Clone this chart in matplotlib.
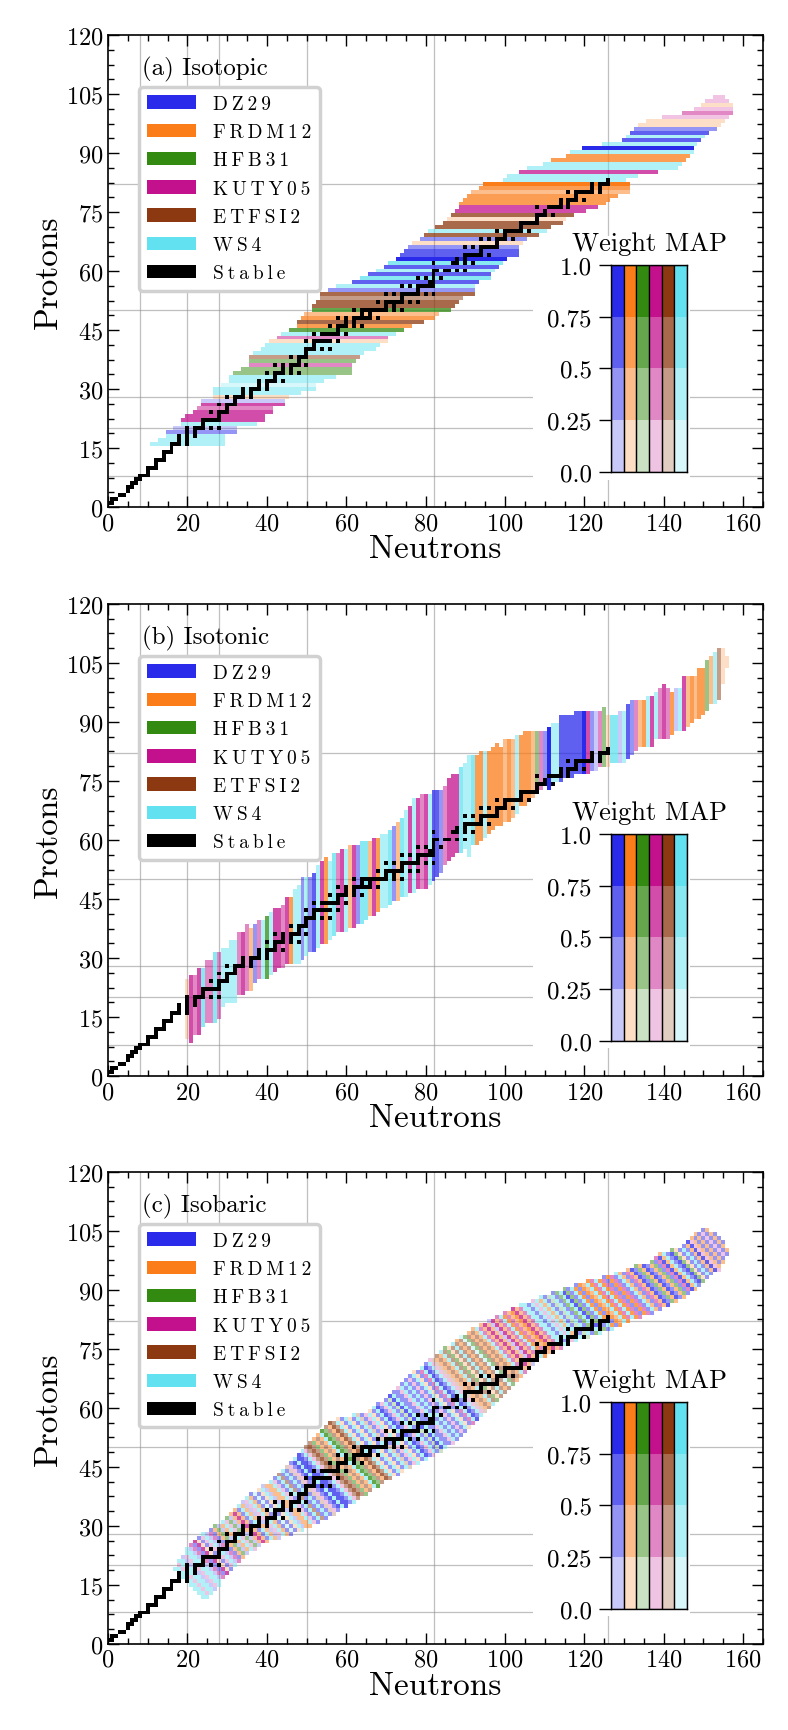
"""
Isotopic / isotonic / isobaric best-model maps on the nuclear chart
"""
import numpy as np
import matplotlib
matplotlib.use('Agg')
import matplotlib.pyplot as plt
from matplotlib.patches import Rectangle, Patch
from matplotlib.colors import to_rgb
from matplotlib.ticker import MultipleLocator, AutoMinorLocator

plt.rcParams['font.family'] = ['cmr10', 'DejaVu Serif']
plt.rcParams['mathtext.fontset'] = 'cm'
plt.rcParams['axes.formatter.use_mathtext'] = True
plt.rcParams['axes.unicode_minus'] = False

MODELS = ['DZ29', 'FRDM12', 'HFB31', 'KUTY05', 'ETFSI2', 'WS4']
COLORS = ['#2a2aeb', '#fa7d19', '#328a10', '#c3108c', '#8c3810', '#62e2f0']
PANEL_TITLES = ['(a) Isotopic', '(b) Isotonic', '(c) Isobaric']
MAGIC_N = [8, 20, 28, 50, 82, 126]
MAGIC_Z = [8, 20, 28, 50, 82]

# ---- (a) isotopic chains: one row per Z ----
ISO_Z = list(range(16, 105))
ISO_NMIN = [11, 13, 15, 15, 17, 19, 19, 20, 22, 23, 24, 24, 27, 27, 27, 29, 31, 31, 32, 34,
            36, 36, 36, 37, 39, 40, 41, 43, 44, 46, 48, 48, 49, 50, 52, 52, 53, 54, 54, 56,
            58, 62, 64, 66, 68, 70, 71, 73, 74, 75, 76, 77, 79, 80, 81, 83, 85, 86, 87, 88,
            89, 89, 90, 91, 92, 94, 95, 100, 101, 104, 106, 110, 112, 116, 117, 120, 125, 130, 131, 132,
            133, 134, 136, 140, 145, 148, 150, 151, 153]
ISO_NMAX = [29, 29, 29, 32, 32, 37, 39, 39, 41, 41, 44, 44, 45, 48, 52, 52, 54, 57, 61, 61,
            61, 62, 63, 64, 67, 68, 70, 70, 72, 74, 76, 79, 82, 83, 86, 87, 88, 89, 92, 92,
            92, 93, 96, 96, 97, 98, 99, 100, 103, 103, 103, 104, 105, 108, 110, 111, 114, 115, 117, 120,
            123, 125, 126, 128, 131, 131, 131, 130, 133, 138, 143, 144, 145, 146, 147, 147, 148, 149, 150, 151,
            153, 154, 155, 156, 157, 157, 157, 156, 155]
ISO_MODEL = [5, 5, 5, 0, 0, 5, 3, 3, 3, 3, 3, 0, 1, 5, 5, 5, 5, 5, 2, 2,
             3, 2, 4, 5, 5, 5, 1, 3, 5, 2, 1, 4, 1, 1, 2, 4, 4, 4, 4, 0,
             5, 0, 5, 0, 5, 0, 5, 0, 0, 0, 0, 1, 0, 4, 5, 4, 4, 1, 4, 3,
             3, 1, 1, 1, 1, 1, 1, 5, 5, 3, 5, 5, 1, 1, 5, 0, 5, 0, 5, 0,
             0, 1, 1, 3, 3, 3, 1, 3, 3]
ISO_W = [0.3, 0.3, 0.4, 0.3, 0.2, 0.3, 0.6, 0.6, 0.6, 0.4, 0.6, 0.2, 0.2, 0.3, 0.3, 0.2, 0.3, 0.3, 0.3, 0.3,
         0.3, 0.4, 0.3, 0.4, 0.3, 0.4, 0.2, 0.3, 0.4, 0.6, 0.6, 0.6, 0.6, 0.4, 0.6, 0.6, 0.6, 0.4, 0.6, 0.3,
         0.3, 0.6, 0.6, 0.6, 0.4, 0.6, 0.6, 0.9, 0.6, 0.6, 0.4, 0.2, 0.3, 0.6, 0.3, 0.6, 0.6, 0.2, 0.6, 0.6,
         0.6, 0.6, 0.6, 0.6, 0.4, 0.6, 0.9, 0.3, 0.3, 0.6, 0.3, 0.4, 0.6, 0.6, 0.3, 0.9, 0.3, 0.6, 0.3, 0.6,
         0.3, 0.2, 0.2, 0.2, 0.3, 0.2, 0.2, 0.2, 0.2]

# ---- (b) isotonic chains: one column per N ----
ITN_N = list(range(20, 157))
ITN_ZMIN = [10, 9, 11, 11, 13, 14, 14, 14, 15, 18, 19, 19, 19, 21, 21, 22, 22, 24, 25, 25,
            25, 26, 27, 28, 28, 29, 29, 29, 29, 30, 31, 32, 32, 33, 34, 34, 35, 36, 37, 37,
            37, 38, 38, 39, 39, 40, 41, 41, 42, 43, 43, 44, 45, 45, 46, 46, 47, 47, 48, 48,
            48, 49, 50, 51, 52, 54, 55, 56, 57, 57, 58, 56, 59, 59, 60, 61, 62, 63, 64, 64,
            65, 65, 66, 67, 69, 69, 70, 71, 72, 73, 74, 73, 74, 75, 75, 76, 76, 76, 77, 77,
            77, 77, 78, 78, 79, 79, 79, 80, 80, 80, 80, 81, 82, 83, 84, 84, 84, 84, 86, 86,
            86, 86, 87, 88, 88, 88, 89, 90, 91, 91, 92, 93, 95, 95, 96, 100, 104]
ITN_ZMAX = [24, 25, 25, 27, 27, 29, 29, 31, 31, 32, 32, 34, 34, 36, 36, 38, 37, 38, 39, 39,
            40, 41, 42, 42, 43, 45, 45, 47, 48, 50, 50, 50, 51, 53, 54, 55, 54, 56, 56, 57,
            57, 58, 58, 58, 59, 59, 59, 60, 60, 61, 61, 62, 63, 64, 65, 67, 68, 70, 70, 71,
            71, 71, 72, 72, 72, 73, 75, 76, 76, 78, 79, 81, 81, 81, 82, 82, 82, 83, 84, 83,
            85, 85, 85, 86, 86, 87, 87, 87, 87, 87, 87, 88, 89, 89, 91, 91, 91, 91, 92, 92,
            92, 92, 92, 92, 92, 93, 91, 91, 91, 92, 92, 94, 95, 95, 95, 95, 96, 96, 97, 98,
            99, 98, 97, 98, 98, 101, 101, 101, 101, 103, 103, 105, 106, 107, 108, 108, 106]
ITN_MODEL = [1, 3, 3, 3, 5, 3, 3, 5, 3, 5, 5, 5, 5, 3, 3, 3, 1, 0, 3, 5,
             2, 5, 3, 3, 3, 3, 1, 5, 5, 0, 5, 0, 0, 5, 3, 1, 5, 5, 3, 3,
             5, 1, 3, 0, 5, 5, 1, 3, 1, 5, 5, 5, 0, 1, 5, 5, 3, 5, 3, 3,
             3, 5, 0, 0, 0, 3, 3, 3, 3, 5, 5, 5, 5, 1, 1, 5, 1, 1, 1, 1,
             1, 1, 1, 5, 1, 1, 1, 1, 2, 3, 0, 0, 5, 5, 0, 0, 0, 0, 0, 0,
             0, 3, 0, 0, 3, 2, 1, 5, 5, 0, 5, 0, 0, 3, 1, 1, 5, 3, 5, 3,
             3, 3, 1, 0, 5, 3, 1, 1, 1, 1, 1, 2, 1, 5, 4, 1, 1]
ITN_W = [0.2, 0.6, 0.3, 0.6, 0.6, 0.3, 0.3, 0.6, 0.3, 0.4, 0.4, 0.4, 0.4, 0.3, 0.6, 0.4, 0.4, 0.3, 0.3, 0.4,
         0.6, 0.4, 0.6, 0.6, 0.4, 0.6, 0.6, 0.4, 0.4, 0.3, 0.4, 0.3, 0.6, 0.4, 0.6, 0.6, 0.4, 0.6, 0.3, 0.6,
         0.4, 0.4, 0.6, 0.3, 0.6, 0.6, 0.4, 0.6, 0.6, 0.4, 0.4, 0.6, 0.3, 0.4, 0.6, 0.4, 0.6, 0.4, 0.6, 0.3,
         0.6, 0.4, 0.6, 0.6, 0.3, 0.3, 0.6, 0.6, 0.6, 0.6, 0.4, 0.4, 0.6, 0.6, 0.6, 0.4, 0.6, 0.6, 0.6, 0.6,
         0.3, 0.6, 0.3, 0.4, 0.6, 0.6, 0.6, 0.4, 0.3, 0.3, 0.3, 0.9, 0.4, 0.4, 0.6, 0.6, 0.6, 0.6, 0.6, 0.6,
         0.9, 0.6, 0.3, 0.2, 0.3, 0.4, 0.2, 0.6, 0.6, 0.2, 0.4, 0.6, 0.3, 0.3, 0.3, 0.6, 0.4, 0.6, 0.4, 0.3,
         0.6, 0.3, 0.6, 0.2, 0.3, 0.6, 0.3, 0.6, 0.3, 0.6, 0.6, 0.3, 0.3, 0.3, 0.3, 0.2, 0.2]

# ---- (c) isobaric chains: one diagonal per A ----
ISB_A = list(range(36, 258))
ISB_ZMIN = [12, 12, 13, 13, 14, 14, 15, 15, 16, 17, 17, 18, 18, 19, 19, 20, 20, 21, 21, 22,
            22, 23, 23, 24, 24, 24, 25, 25, 26, 26, 26, 27, 27, 27, 27, 28, 28, 28, 28, 29,
            29, 29, 29, 30, 30, 30, 31, 31, 31, 32, 32, 32, 33, 33, 33, 34, 34, 35, 35, 35,
            36, 36, 36, 37, 37, 38, 38, 38, 39, 39, 40, 40, 40, 41, 41, 42, 42, 42, 43, 43,
            43, 44, 44, 45, 45, 45, 46, 46, 46, 47, 47, 47, 48, 48, 48, 49, 49, 49, 50, 50,
            51, 51, 51, 52, 52, 53, 53, 54, 54, 55, 55, 56, 56, 57, 57, 58, 58, 59, 59, 60,
            60, 61, 61, 62, 62, 63, 63, 64, 64, 65, 65, 66, 66, 67, 67, 68, 68, 69, 69, 70,
            70, 71, 71, 72, 72, 73, 73, 73, 74, 74, 74, 75, 75, 75, 76, 76, 76, 77, 77, 77,
            78, 78, 78, 78, 79, 79, 79, 79, 80, 80, 80, 80, 81, 81, 81, 82, 82, 82, 83, 83,
            83, 83, 84, 84, 84, 84, 85, 85, 85, 86, 86, 86, 87, 87, 87, 88, 88, 88, 89, 89,
            90, 90, 90, 91, 91, 92, 92, 93, 93, 94, 94, 95, 95, 95, 96, 97, 97, 98, 99, 99,
            100, 102]
ISB_ZMAX = [19, 19, 20, 21, 21, 22, 22, 23, 24, 24, 25, 25, 26, 26, 27, 27, 28, 28, 28, 29,
            29, 30, 30, 30, 31, 31, 32, 32, 33, 33, 34, 34, 35, 35, 36, 36, 37, 37, 38, 38,
            38, 39, 39, 40, 40, 40, 41, 41, 42, 42, 43, 43, 44, 44, 45, 45, 46, 46, 47, 47,
            48, 48, 49, 49, 50, 50, 51, 51, 52, 52, 53, 53, 54, 54, 55, 55, 56, 56, 56, 57,
            57, 57, 57, 57, 58, 58, 58, 58, 58, 59, 59, 60, 60, 61, 61, 61, 62, 62, 63, 63,
            64, 64, 65, 65, 66, 66, 67, 67, 68, 68, 69, 69, 69, 70, 70, 71, 71, 72, 72, 72,
            73, 73, 74, 74, 75, 75, 75, 76, 76, 77, 77, 78, 78, 78, 79, 79, 80, 80, 80, 81,
            81, 81, 82, 82, 82, 83, 83, 83, 84, 84, 84, 85, 85, 85, 86, 86, 86, 86, 87, 87,
            87, 88, 88, 88, 88, 89, 89, 89, 89, 90, 90, 90, 90, 91, 91, 91, 91, 92, 92, 92,
            92, 92, 93, 93, 93, 93, 94, 94, 94, 94, 95, 95, 95, 96, 96, 96, 96, 96, 97, 97,
            98, 98, 99, 99, 99, 99, 100, 100, 100, 100, 101, 101, 102, 102, 103, 103, 104, 104, 104, 105,
            105, 104]
ISB_MODEL = [5, 5, 3, 5, 5, 0, 3, 5, 5,
             0, 3, 0, 3, 1, 0, 3, 5, 0, 3, 0,
             1, 2, 0, 1, 5, 3, 2, 0, 1, 3,
             1, 0, 5, 1, 0, 3, 5, 1, 0, 5,
             0, 1, 5, 0, 1, 1, 5, 3, 0, 5,
             4, 0, 5, 0, 4, 3, 0, 0, 5, 0,
             0, 0, 5, 3, 4, 4, 4, 2, 1, 4,
             1, 5, 2, 2, 4, 1, 4, 4, 5, 1,
             0, 5, 1, 0, 5, 4, 0, 3, 5, 1,
             0, 5, 0, 0, 3, 5, 0, 2, 0, 5, 0, 0, 3, 5, 0,
             5, 0, 3, 0, 5, 1, 0, 3, 5, 0, 0, 5, 3, 4, 1,
             4, 1, 5, 4, 2, 1, 4, 5, 4, 1, 4, 5, 2, 4, 1,
             4, 1, 5, 3, 1, 3, 1, 0, 3, 1, 3, 5, 1, 3, 1,
             1, 3, 1, 3, 5, 5, 0, 5, 3, 5, 1, 5, 0, 2, 5,
             0, 2, 5, 0, 2, 0, 5, 1, 0, 1, 1, 5, 1, 3, 5,
             1, 3, 0, 1, 3, 0, 5, 1, 0, 3, 1, 0, 0, 2, 1,
             0, 0, 1, 2, 0, 3, 0, 1, 5, 0, 0, 2, 1, 0, 5,
             0, 1, 0, 3, 1, 0, 1, 0, 3, 0, 1, 0]
ISB_W = [0.4, 0.4, 0.2, 0.3, 0.4, 0.2, 0.2, 0.3, 0.3,
         0.2, 0.4, 0.3, 0.6, 0.2, 0.3, 0.2, 0.3, 0.2, 0.3, 0.3,
         0.3, 0.3, 0.2, 0.4, 0.3, 0.2, 0.4, 0.2, 0.3, 0.6,
         0.3, 0.3, 0.3, 0.4, 0.2, 0.2, 0.4, 0.3, 0.3, 0.2,
         0.3, 0.2, 0.3, 0.2, 0.4, 0.4, 0.3, 0.2, 0.3, 0.4,
         0.3, 0.3, 0.3, 0.4, 0.2, 0.2, 0.3, 0.6, 0.3, 0.6,
         0.6, 0.4, 0.3, 0.2, 0.3, 0.6, 0.4, 0.3, 0.3, 0.4,
         0.3, 0.3, 0.6, 0.4, 0.3, 0.3, 0.6, 0.4, 0.3, 0.2,
         0.3, 0.3, 0.2, 0.4, 0.3, 0.2, 0.3, 0.2, 0.3, 0.2,
         0.4, 0.3, 0.6, 0.3, 0.2, 0.3, 0.4, 0.2, 0.6, 0.3, 0.3, 0.4, 0.2, 0.3, 0.4,
         0.3, 0.4, 0.2, 0.3, 0.3, 0.2, 0.4, 0.3, 0.3, 0.6, 0.3, 0.3, 0.2, 0.2, 0.3,
         0.3, 0.3, 0.3, 0.4, 0.3, 0.2, 0.3, 0.3, 0.4, 0.3, 0.3, 0.2, 0.3, 0.3, 0.4,
         0.3, 0.3, 0.3, 0.4, 0.4, 0.6, 0.3, 0.2, 0.6, 0.4, 0.3, 0.3, 0.6, 0.4, 0.3,
         0.6, 0.6, 0.3, 0.4, 0.3, 0.3, 0.3, 0.4, 0.2, 0.3, 0.3, 0.4, 0.3, 0.2, 0.3,
         0.4, 0.3, 0.3, 0.6, 0.3, 0.3, 0.3, 0.6, 0.4, 0.6, 0.3, 0.3, 0.6, 0.3, 0.3,
         0.6, 0.3, 0.3, 0.6, 0.3, 0.3, 0.3, 0.3, 0.4, 0.3, 0.3, 0.6, 0.3, 0.3, 0.3,
         0.6, 0.4, 0.3, 0.3, 0.3, 0.3, 0.6, 0.3, 0.3, 0.3, 0.6, 0.3, 0.2, 0.3, 0.3,
         0.3, 0.3, 0.6, 0.2, 0.3, 0.3, 0.4, 0.3, 0.2, 0.3, 0.3, 0.3]

# ---- stable nuclei: mass numbers for each Z = 0..83 ----
STABLE_A = [
    [],
    [1, 2], [3, 4], [6, 7], [9], [10, 11], [12, 13], [14, 15], [16, 17, 18], [19], [20, 21, 22],
    [23], [24, 25, 26], [27], [28, 29, 30], [31], [32, 33, 34, 36], [35, 37], [36, 38, 40], [39, 41],
    [40, 42, 43, 44, 46, 48],
    [45], [46, 47, 48, 49, 50], [51], [50, 52, 53, 54], [55], [54, 56, 57, 58], [59],
    [58, 60, 61, 62, 64], [63, 65], [64, 66, 67, 68, 70],
    [69, 71], [70, 72, 73, 74, 76], [75], [74, 76, 77, 78, 80, 82], [79, 81],
    [78, 80, 82, 83, 84, 86], [85], [84, 86, 87, 88], [89], [90, 91, 92, 94, 96],
    [93], [92, 94, 95, 96, 97, 98, 100], [], [96, 98, 99, 100, 101, 102, 104], [103],
    [102, 104, 105, 106, 108, 110], [107, 109], [106, 108, 110, 111, 112, 113, 114, 116], [113, 115],
    [112, 114, 115, 116, 117, 118, 119, 120, 122, 124],
    [121, 123], [120, 122, 123, 124, 125, 126, 128, 130], [127],
    [124, 126, 128, 129, 130, 131, 132, 134, 136], [133], [130, 132, 134, 135, 136, 137, 138],
    [138, 139], [136, 138, 140, 142], [141], [142, 143, 145, 146, 148, 150],
    [], [144, 149, 150, 152, 154], [151, 153], [154, 155, 156, 157, 158, 160], [159],
    [156, 158, 160, 161, 162, 163, 164], [165], [162, 164, 166, 167, 168, 170], [169],
    [168, 170, 171, 172, 173, 174, 176],
    [175], [176, 177, 178, 179, 180], [181], [182, 183, 184, 186], [185],
    [184, 187, 188, 189, 190, 192], [191, 193], [192, 194, 195, 196, 198], [197],
    [196, 198, 199, 200, 201, 202, 204],
    [203, 205], [204, 206, 207, 208], [209],
]

GRID_N, GRID_Z = 170, 125


def weight_alpha(w):
    """weight -> opacity band of the Weight MAP (0.25 / 0.5 / 0.75 / 1)"""
    return np.ceil(np.asarray(w) * 4) / 4


def empty_map():
    return np.zeros((GRID_Z, GRID_N, 4))


def set_cell(img, n, z, model, w):
    img[z, n, :3] = to_rgb(COLORS[model])
    img[z, n, 3] = weight_alpha(w)


def isotopic_map():
    img = empty_map()
    for z, n0, n1, m, w in zip(ISO_Z, ISO_NMIN, ISO_NMAX, ISO_MODEL, ISO_W):
        for n in range(n0, n1 + 1):
            set_cell(img, n, z, m, w)
    return img


def isotonic_map():
    img = empty_map()
    for n, z0, z1, m, w in zip(ITN_N, ITN_ZMIN, ITN_ZMAX, ITN_MODEL, ITN_W):
        for z in range(z0, z1 + 1):
            set_cell(img, n, z, m, w)
    return img


def isobaric_map():
    img = empty_map()
    for a, z0, z1, m, w in zip(ISB_A, ISB_ZMIN, ISB_ZMAX, ISB_MODEL, ISB_W):
        for z in range(z0, z1 + 1):
            set_cell(img, a - z, z, m, w)
    return img


def stable_map():
    img = empty_map()
    for z, masses in enumerate(STABLE_A):
        for a in masses:
            img[z, a - z] = (0, 0, 0, 1)
    return img


def spaced(s):
    # legend labels are letter-spaced in the original
    return '\u2009'.join(s)


def add_weight_map(ax):
    axins = ax.inset_axes([126.7 / 165, 9 / 120, 19.2 / 165, 52.5 / 120])
    for i, c in enumerate(COLORS):
        for k in range(4):
            axins.add_patch(Rectangle((i, k * 0.25), 1, 0.25, facecolor=c,
                                      alpha=(k + 1) / 4, edgecolor='none'))
        axins.add_patch(Rectangle((i, 0), 1, 1, fill=False, edgecolor='k', lw=0.9))
    axins.set_xlim(0, 6)
    axins.set_ylim(0, 1)
    axins.set_xticks([])
    axins.set_yticks([0, 0.25, 0.5, 0.75, 1.0])
    axins.set_yticklabels(['0.0', '0.25', '0.5', '0.75', '1.0'])
    axins.tick_params(axis='y', direction='out', length=9, width=1, labelsize=18, pad=5)
    axins.set_title('Weight MAP', fontsize=19, pad=11)
    for sp in axins.spines.values():
        sp.set_linewidth(1.0)


def draw_panel(ax, img, title):
    for v in MAGIC_N:
        ax.axvline(v, color='0.55', lw=0.9, alpha=0.55, zorder=0.5)
    for h in MAGIC_Z:
        ax.axhline(h, color='0.55', lw=0.9, alpha=0.55, zorder=0.5)
    # white backing behind the Weight MAP inset
    ax.add_patch(Rectangle((107, 7), 39.5, 62, facecolor='white',
                           edgecolor='none', zorder=0.8))

    ext = (-0.5, GRID_N - 0.5, -0.5, GRID_Z - 0.5)
    ax.imshow(img, origin='lower', extent=ext, interpolation='nearest',
              aspect='auto', zorder=1)
    ax.imshow(stable_map(), origin='lower', extent=ext, interpolation='nearest',
              aspect='auto', zorder=3)

    ax.set_xlim(0, 165)
    ax.set_ylim(0, 120)
    ax.xaxis.set_major_locator(MultipleLocator(20))
    ax.xaxis.set_minor_locator(AutoMinorLocator(4))
    ax.yaxis.set_major_locator(MultipleLocator(15))
    ax.yaxis.set_minor_locator(AutoMinorLocator(4))
    ax.tick_params(which='both', direction='in', top=True, right=True, width=1.0,
                   labelsize=17.5)
    ax.tick_params(which='major', length=8)
    ax.tick_params(which='minor', length=4.5)
    for sp in ax.spines.values():
        sp.set_linewidth(1.2)
    ax.set_xlabel('Neutrons', fontsize=24, labelpad=0)
    ax.set_ylabel('Protons', fontsize=24, labelpad=2)

    ax.text(8.5, 111.5, title, fontsize=18, va='center', ha='left')

    handles = [Patch(facecolor=c, edgecolor='none', label=spaced(m))
               for m, c in zip(MODELS, COLORS)]
    handles.append(Patch(facecolor='black', edgecolor='none', label=spaced('Stable')))
    leg = ax.legend(handles=handles, loc='upper left', bbox_to_anchor=(7.8, 106.8),
                    bbox_transform=ax.transData, borderaxespad=0, fontsize=14,
                    handlelength=2.5, handleheight=0.69, labelspacing=0.53,
                    handletextpad=0.9, borderpad=0.42, fancybox=True,
                    framealpha=1, edgecolor='0.82')
    leg.get_frame().set_linewidth(2.5)
    leg.set_zorder(5)

    add_weight_map(ax)


def main():
    fig = plt.figure(figsize=(7.88, 17.31), dpi=100)
    bottoms = [0.7065, 0.3778, 0.0497]
    maps = [isotopic_map(), isotonic_map(), isobaric_map()]
    for b, img, title in zip(bottoms, maps, PANEL_TITLES):
        ax = fig.add_axes([0.1371, b, 0.8312, 0.2727])
        draw_panel(ax, img, title)
    fig.savefig('out.png', dpi=100, facecolor='white')
    plt.close(fig)


if __name__ == "__main__":
    main()
